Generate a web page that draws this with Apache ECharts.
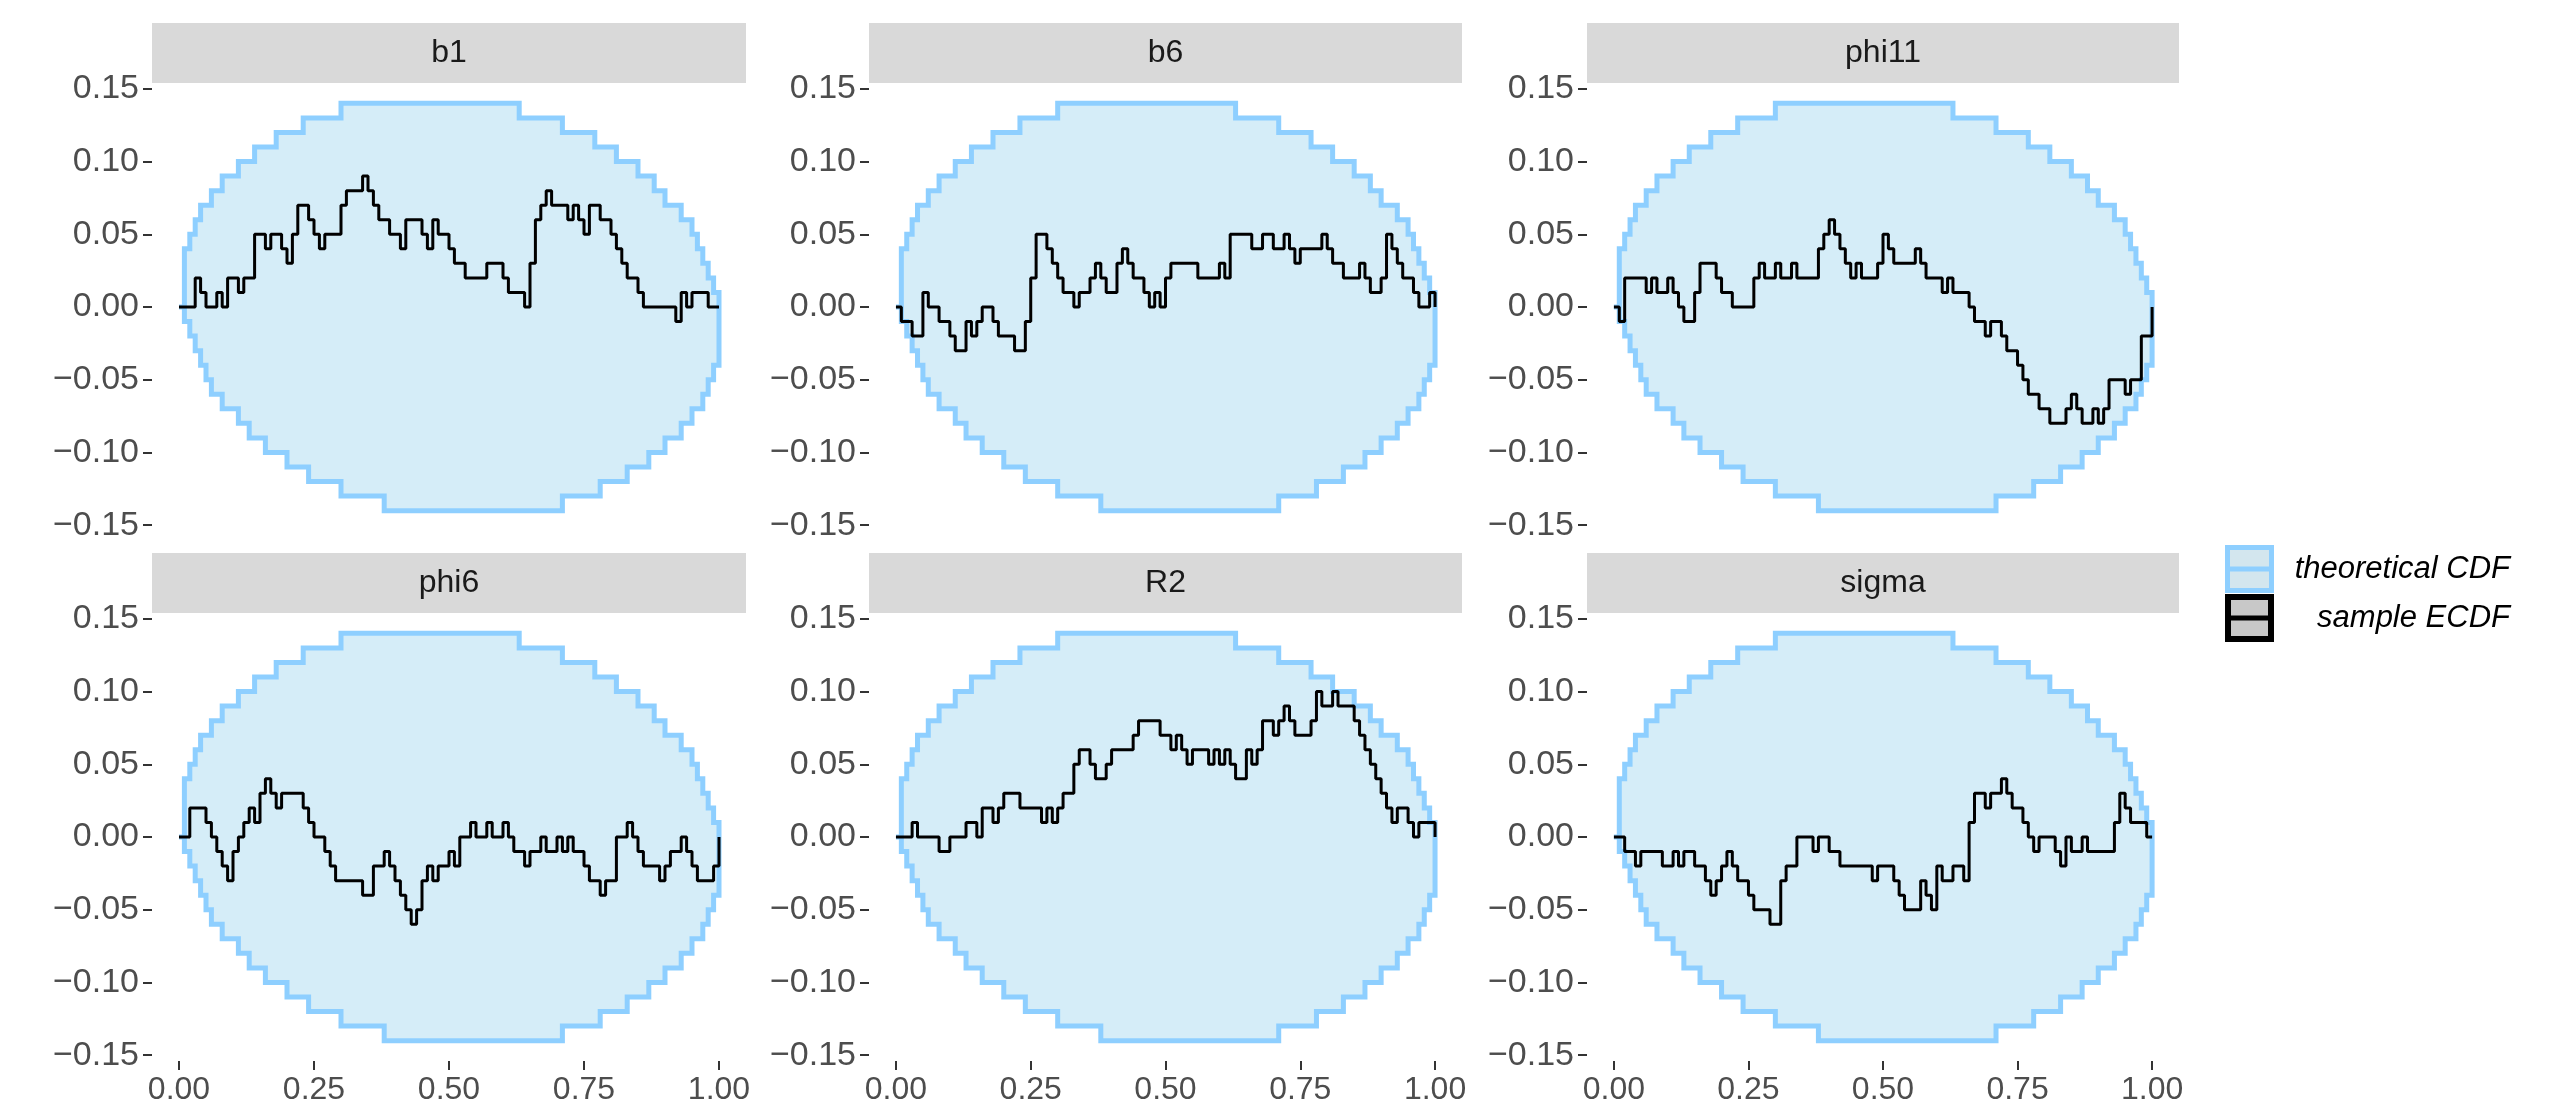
<!DOCTYPE html>
<html>
<head>
<meta charset="utf-8">
<script src="https://cdn.jsdelivr.net/npm/echarts@6/dist/echarts.min.js"></script>
<style>
html,body{margin:0;padding:0;background:#fff;}
#chart{width:2574px;height:1114px;}
</style>
</head>
<body>
<div id="chart"></div>
<script>
// ---- data ----
const panelNames = ["b1", "b6", "phi11", "phi6", "R2", "sigma"];
const xTicks = [0, 0.25, 0.5, 0.75, 1];
const yTicks = [-0.15, -0.10, -0.05, 0, 0.05, 0.10, 0.15];
const legendLabels = ["theoretical CDF", "sample ECDF"];

// evaluation grid (fractional rank), 101 points
const gridX = Array.from({length: 101}, (_, i) => i / 100);

// theoretical CDF band (difference scale)
const bandUpper = [
  0, 0.04, 0.05, 0.06, 0.07, 0.07, 0.08, 0.08, 0.09, 0.09,
  0.09, 0.10, 0.10, 0.10, 0.11, 0.11, 0.11, 0.11, 0.12, 0.12,
  0.12, 0.12, 0.12, 0.13, 0.13, 0.13, 0.13, 0.13, 0.13, 0.13,
  0.14, 0.14, 0.14, 0.14, 0.14, 0.14, 0.14, 0.14, 0.14, 0.14,
  0.14, 0.14, 0.14, 0.14, 0.14, 0.14, 0.14, 0.14, 0.14, 0.14,
  0.14, 0.14, 0.14, 0.14, 0.14, 0.14, 0.14, 0.14, 0.14, 0.14,
  0.14, 0.14, 0.14, 0.13, 0.13, 0.13, 0.13, 0.13, 0.13, 0.13,
  0.13, 0.12, 0.12, 0.12, 0.12, 0.12, 0.12, 0.11, 0.11, 0.11,
  0.11, 0.10, 0.10, 0.10, 0.10, 0.09, 0.09, 0.09, 0.08, 0.08,
  0.07, 0.07, 0.07, 0.06, 0.06, 0.05, 0.04, 0.03, 0.02, 0.01,
  0
];
const bandLower = [
  0, -0.01, -0.02, -0.03, -0.04, -0.05, -0.06, -0.06, -0.07, -0.07,
  -0.07, -0.08, -0.08, -0.09, -0.09, -0.09, -0.10, -0.10, -0.10, -0.10,
  -0.11, -0.11, -0.11, -0.11, -0.12, -0.12, -0.12, -0.12, -0.12, -0.12,
  -0.13, -0.13, -0.13, -0.13, -0.13, -0.13, -0.13, -0.13, -0.14, -0.14,
  -0.14, -0.14, -0.14, -0.14, -0.14, -0.14, -0.14, -0.14, -0.14, -0.14,
  -0.14, -0.14, -0.14, -0.14, -0.14, -0.14, -0.14, -0.14, -0.14, -0.14,
  -0.14, -0.14, -0.14, -0.14, -0.14, -0.14, -0.14, -0.14, -0.14, -0.14,
  -0.14, -0.13, -0.13, -0.13, -0.13, -0.13, -0.13, -0.13, -0.12, -0.12,
  -0.12, -0.12, -0.12, -0.11, -0.11, -0.11, -0.11, -0.10, -0.10, -0.10,
  -0.09, -0.09, -0.09, -0.08, -0.08, -0.07, -0.07, -0.06, -0.05, -0.04,
  0
];

// sample ECDF differences
const ecdfB1 = [
  0, 0, 0, 0.02, 0.01, 0, 0, 0.01, 0, 0.02,
  0.02, 0.01, 0.02, 0.02, 0.05, 0.05, 0.04, 0.05, 0.05, 0.04,
  0.03, 0.05, 0.07, 0.07, 0.06, 0.05, 0.04, 0.05, 0.05, 0.05,
  0.07, 0.08, 0.08, 0.08, 0.09, 0.08, 0.07, 0.06, 0.06, 0.05,
  0.05, 0.04, 0.06, 0.06, 0.06, 0.05, 0.04, 0.06, 0.05, 0.05,
  0.04, 0.03, 0.03, 0.02, 0.02, 0.02, 0.02, 0.03, 0.03, 0.03,
  0.02, 0.01, 0.01, 0.01, 0, 0.03, 0.06, 0.07, 0.08, 0.07,
  0.07, 0.07, 0.06, 0.07, 0.06, 0.05, 0.07, 0.07, 0.06, 0.06,
  0.05, 0.04, 0.03, 0.02, 0.02, 0.01, 0, 0, 0, 0,
  0, 0, -0.01, 0.01, 0, 0.01, 0.01, 0.01, 0, 0,
  0
];
const ecdfB6 = [
  0, -0.01, -0.01, -0.02, -0.02, 0.01, 0, 0, -0.01, -0.01,
  -0.02, -0.03, -0.03, -0.01, -0.02, -0.01, 0, 0, -0.01, -0.02,
  -0.02, -0.02, -0.03, -0.03, -0.01, 0.02, 0.05, 0.05, 0.04, 0.03,
  0.02, 0.01, 0.01, 0, 0.01, 0.01, 0.02, 0.03, 0.02, 0.01,
  0.01, 0.03, 0.04, 0.03, 0.02, 0.02, 0.01, 0, 0.01, 0,
  0.02, 0.03, 0.03, 0.03, 0.03, 0.03, 0.02, 0.02, 0.02, 0.02,
  0.03, 0.02, 0.05, 0.05, 0.05, 0.05, 0.04, 0.04, 0.05, 0.05,
  0.04, 0.04, 0.05, 0.04, 0.03, 0.04, 0.04, 0.04, 0.04, 0.05,
  0.04, 0.03, 0.03, 0.02, 0.02, 0.02, 0.03, 0.02, 0.01, 0.01,
  0.02, 0.05, 0.04, 0.03, 0.02, 0.02, 0.01, 0, 0, 0.01,
  0
];
const ecdfPhi11 = [
  0, -0.01, 0.02, 0.02, 0.02, 0.02, 0.01, 0.02, 0.01, 0.01,
  0.02, 0.01, 0, -0.01, -0.01, 0.01, 0.03, 0.03, 0.03, 0.02,
  0.01, 0.01, 0, 0, 0, 0, 0.02, 0.03, 0.02, 0.02,
  0.03, 0.02, 0.02, 0.03, 0.02, 0.02, 0.02, 0.02, 0.04, 0.05,
  0.06, 0.05, 0.04, 0.03, 0.02, 0.03, 0.02, 0.02, 0.02, 0.03,
  0.05, 0.04, 0.03, 0.03, 0.03, 0.03, 0.04, 0.03, 0.02, 0.02,
  0.02, 0.01, 0.02, 0.01, 0.01, 0.01, 0, -0.01, -0.01, -0.02,
  -0.01, -0.01, -0.02, -0.03, -0.03, -0.04, -0.05, -0.06, -0.06, -0.07,
  -0.07, -0.08, -0.08, -0.08, -0.07, -0.06, -0.07, -0.08, -0.08, -0.07,
  -0.08, -0.07, -0.05, -0.05, -0.05, -0.06, -0.05, -0.05, -0.02, -0.02,
  0
];
const ecdfPhi6 = [
  0, 0, 0.02, 0.02, 0.02, 0.01, 0, -0.01, -0.02, -0.03,
  -0.01, 0, 0.01, 0.02, 0.01, 0.03, 0.04, 0.03, 0.02, 0.03,
  0.03, 0.03, 0.03, 0.02, 0.01, 0, 0, -0.01, -0.02, -0.03,
  -0.03, -0.03, -0.03, -0.03, -0.04, -0.04, -0.02, -0.02, -0.01, -0.02,
  -0.03, -0.04, -0.05, -0.06, -0.05, -0.03, -0.02, -0.03, -0.02, -0.02,
  -0.01, -0.02, 0, 0, 0.01, 0, 0, 0.01, 0, 0,
  0.01, 0, -0.01, -0.01, -0.02, -0.01, -0.01, 0, -0.01, -0.01,
  0, -0.01, 0, -0.01, -0.01, -0.02, -0.03, -0.03, -0.04, -0.03,
  -0.03, 0, 0, 0.01, 0, -0.01, -0.02, -0.02, -0.02, -0.03,
  -0.02, -0.01, -0.01, 0, -0.01, -0.02, -0.03, -0.03, -0.03, -0.02,
  0
];
const ecdfR2 = [
  0, 0, 0, 0.01, 0, 0, 0, 0, -0.01, -0.01,
  0, 0, 0, 0.01, 0.01, 0, 0.02, 0.02, 0.01, 0.02,
  0.03, 0.03, 0.03, 0.02, 0.02, 0.02, 0.02, 0.01, 0.02, 0.01,
  0.02, 0.03, 0.03, 0.05, 0.06, 0.06, 0.05, 0.04, 0.04, 0.05,
  0.06, 0.06, 0.06, 0.06, 0.07, 0.08, 0.08, 0.08, 0.08, 0.07,
  0.07, 0.06, 0.07, 0.06, 0.05, 0.06, 0.06, 0.06, 0.05, 0.06,
  0.05, 0.06, 0.05, 0.04, 0.04, 0.06, 0.05, 0.06, 0.08, 0.08,
  0.07, 0.08, 0.09, 0.08, 0.07, 0.07, 0.07, 0.08, 0.10, 0.09,
  0.09, 0.10, 0.09, 0.09, 0.09, 0.08, 0.07, 0.06, 0.05, 0.04,
  0.03, 0.02, 0.01, 0.02, 0.02, 0.01, 0, 0.01, 0.01, 0.01,
  0
];
const ecdfSigma = [
  0, 0, -0.01, -0.01, -0.02, -0.01, -0.01, -0.01, -0.01, -0.02,
  -0.02, -0.01, -0.02, -0.01, -0.01, -0.02, -0.02, -0.03, -0.04, -0.03,
  -0.02, -0.01, -0.02, -0.03, -0.03, -0.04, -0.05, -0.05, -0.05, -0.06,
  -0.06, -0.03, -0.02, -0.02, 0, 0, 0, -0.01, 0, 0,
  -0.01, -0.01, -0.02, -0.02, -0.02, -0.02, -0.02, -0.02, -0.03, -0.02,
  -0.02, -0.02, -0.03, -0.04, -0.05, -0.05, -0.05, -0.03, -0.04, -0.05,
  -0.02, -0.03, -0.03, -0.02, -0.02, -0.03, 0.01, 0.03, 0.03, 0.02,
  0.03, 0.03, 0.04, 0.03, 0.02, 0.02, 0.01, 0, -0.01, 0,
  0, 0, -0.01, -0.02, 0, -0.01, -0.01, 0, -0.01, -0.01,
  -0.01, -0.01, -0.01, 0.01, 0.03, 0.02, 0.01, 0.01, 0.01, 0,
  0
];
const panelValues = [ecdfB1, ecdfB6, ecdfPhi11, ecdfPhi6, ecdfR2, ecdfSigma];

// ---- layout / style ----
const FONT = "'Liberation Sans', Arial, Helvetica, sans-serif";
const colLeft = [152, 869, 1587];
const colWidth = [594, 593, 592];
const rowTop = [83, 613];
const plotH = 448;
const stripH = 60;
const xRange = [-0.05, 1.05];
const yRange = [-0.154, 0.154];

const fmt = v => {
  const s = Math.abs(v) < 1e-9 ? "0.00" : v.toFixed(2);
  return s.replace("-", "\u2212");
};

const chart = echarts.init(document.getElementById("chart"), null, {renderer: "canvas"});

const grids = [], xAxes = [], yAxes = [], series = [], graphics = [];

panelNames.forEach((name, k) => {
  const row = Math.floor(k / 3), col = k % 3;
  grids.push({left: colLeft[col], top: rowTop[row], width: colWidth[col], height: plotH, containLabel: false});
  xAxes.push({
    gridIndex: k, type: "value", min: xRange[0], max: xRange[1],
    show: row === 1, position: "bottom",
    axisLine: {show: false, onZero: false},
    axisTick: {show: true, length: 9, customValues: xTicks, lineStyle: {color: "#333333", width: 2}},
    splitLine: {show: false},
    axisLabel: {margin: 13, color: "#4d4d4d", fontSize: 32, fontFamily: FONT, customValues: xTicks, formatter: fmt}
  });
  yAxes.push({
    gridIndex: k, type: "value", min: yRange[0], max: yRange[1], position: "left",
    axisLine: {show: false, onZero: false},
    axisTick: {show: true, length: 9, customValues: yTicks, lineStyle: {color: "#333333", width: 2}},
    splitLine: {show: false},
    axisLabel: {margin: 13, color: "#4d4d4d", fontSize: 34, fontFamily: FONT, customValues: yTicks, formatter: fmt}
  });

  // band polygon
  series.push({
    type: "custom", name: legendLabels[0], xAxisIndex: k, yAxisIndex: k,
    data: [[0, 0]], z: 1, silent: true,
    renderItem: (params, api) => {
      const pts = [];
      pts.push(api.coord([gridX[0], bandUpper[0]]));
      for (let i = 1; i < gridX.length; i++) {
        pts.push(api.coord([gridX[i], bandUpper[i - 1]]));
        pts.push(api.coord([gridX[i], bandUpper[i]]));
      }
      for (let i = gridX.length - 1; i >= 1; i--) {
        pts.push(api.coord([gridX[i], bandLower[i]]));
        pts.push(api.coord([gridX[i], bandLower[i - 1]]));
      }
      pts.push(api.coord([gridX[0], bandLower[0]]));
      return {
        type: "polygon",
        shape: {points: pts},
        style: {fill: "#d5edf8", stroke: "#8ecfff", lineWidth: 5, lineJoin: "miter"}
      };
    }
  });

  // sample ECDF line
  series.push({
    type: "line", name: legendLabels[1], xAxisIndex: k, yAxisIndex: k,
    step: "end", symbol: "none", showSymbol: false, clip: false, z: 3,
    data: gridX.map((x, i) => [x, panelValues[k][i]]),
    lineStyle: {color: "#000000", width: 3}
  });

  // facet strip
  const sx = colLeft[col], sw = colWidth[col];
  const sy = rowTop[row] - stripH;
  graphics.push({
    type: "rect", left: sx, top: sy, shape: {width: sw, height: stripH},
    style: {fill: "#d9d9d9"}, silent: true, z: 0
  });
  graphics.push({
    type: "text", x: sx + sw / 2, y: sy + stripH / 2,
    style: {text: name, fill: "#1a1a1a", font: "32px " + FONT, textAlign: "center", textVerticalAlign: "middle"},
    silent: true
  });
});

// legend (drawn keys)
const keyX = 2225, keyW = 49, keyH = 48, keyY = [545, 594];
graphics.push({type: "rect", shape: {x: keyX + 2.5, y: keyY[0] + 2.5, width: keyW - 5, height: keyH - 5},
  style: {fill: "#d3e6ee", stroke: "#8ecfff", lineWidth: 5}, silent: true});
graphics.push({type: "line", shape: {x1: keyX + 2.5, y1: keyY[0] + keyH / 2, x2: keyX + keyW - 2.5, y2: keyY[0] + keyH / 2},
  style: {stroke: "#8ecfff", lineWidth: 5}, silent: true});
graphics.push({type: "rect", shape: {x: keyX + 3, y: keyY[1] + 3, width: keyW - 6, height: keyH - 6},
  style: {fill: "#c8c8c8", stroke: "#000000", lineWidth: 6}, silent: true});
graphics.push({type: "line", shape: {x1: keyX + 3, y1: keyY[1] + keyH / 2, x2: keyX + keyW - 3, y2: keyY[1] + keyH / 2},
  style: {stroke: "#000000", lineWidth: 5}, silent: true});
legendLabels.forEach((lab, i) => {
  graphics.push({type: "text", x: 2510, y: keyY[i] + keyH / 2,
    style: {text: lab, fill: "#000000", font: "italic 31px " + FONT, textAlign: "right", textVerticalAlign: "middle"},
    silent: true});
});

chart.setOption({
  animation: false,
  backgroundColor: "#ffffff",
  grid: grids, xAxis: xAxes, yAxis: yAxes, series: series, graphic: graphics
});
</script>
</body>
</html>
